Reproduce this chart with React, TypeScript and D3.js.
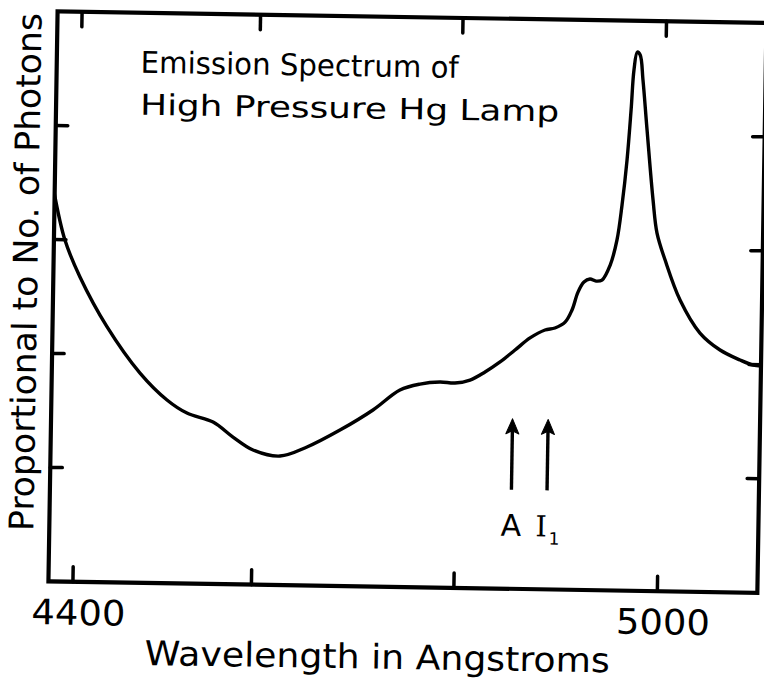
import React from "react";
import * as d3 from "d3";

// Spectrum trace: wavelength (Å) and relative photon count
const wavelengths = [
  4371.8, 4384.9, 4402.4, 4433.5, 4471.4, 4502.1, 4524.7, 4554.1, 4576.7, 4599.4,
  4626.2, 4652.7, 4685.0, 4717.3, 4743.6, 4763.3, 4783.0, 4797.8, 4812.6, 4827.2,
  4841.8, 4856.3, 4870.9, 4885.5, 4895.2, 4905.1, 4911.7, 4917.3, 4923.0, 4928.8,
  4934.8, 4940.7, 4948.5, 4954.8, 4959.2, 4963.4, 4966.6, 4968.8, 4971.8, 4974.7,
  4977.8, 4982.6, 4989.6, 4994.0, 5002.4, 5017.7, 5037.8, 5057.8, 5077.6, 5090.4,
  5098.0,
];
const photons = [
  3.417, 2.996, 2.675, 2.243, 1.840, 1.608, 1.496, 1.421, 1.292, 1.181,
  1.132, 1.215, 1.368, 1.549, 1.728, 1.783, 1.804, 1.797, 1.825, 1.898,
  1.988, 2.095, 2.203, 2.275, 2.294, 2.347, 2.454, 2.612, 2.701, 2.728,
  2.711, 2.721, 2.854, 3.075, 3.382, 3.777, 4.217, 4.568, 4.726, 4.700,
  4.482, 4.044, 3.430, 3.141, 2.905, 2.557, 2.270, 2.124, 2.039, 1.996,
  1.99,
];

const xTicks = [4400, 4600, 4800, 5000];
const xTickLabels = ["4400", "", "", "5000"];
const yTicks = [1, 2, 3, 4];

// Marked lines
const markerNames = ["A", "I"];
const markerWavelengths = [4855, 4890];

const W = 764;
const H = 682;
const left = 53;
const right = 762;
const top = 17;
const bottom = 587;
const FONT = "'DejaVu Sans', sans-serif";

export default function App() {
  // hand-drawn axis: the wavelength ticks are not evenly spaced
  const x = d3
    .scaleLinear()
    .domain([4400, 4600, 4800, 5000])
    .range([77.5, 256, 458.5, 662]);
  const y = d3.scaleLinear().domain([0, 5]).range([bottom, top]);

  const pts: [number, number][] = wavelengths.map((w, i) => [w, photons[i]]);
  const line = d3
    .line<[number, number]>()
    .x((d) => x(d[0]))
    .y((d) => y(d[1]))
    .curve(d3.curveCatmullRom.alpha(0.5));

  const arrowTop = 417;
  const arrowBottom = 488;

  return (
    <svg
      width={W}
      height={H}
      style={{ position: "absolute", left: 0, top: 0, background: "#fff" }}
    >
      <rect x={0} y={0} width={W} height={H} fill="#fff" />
      <g transform="rotate(0.92 400 300)">
        <defs>
          <clipPath id="plotClip">
            <rect x={left} y={top} width={right - left} height={bottom - top} />
          </clipPath>
        </defs>
        {/* frame */}
        <rect
          x={left}
          y={top}
          width={right - left}
          height={bottom - top}
          fill="none"
          stroke="#000"
          strokeWidth={4.2}
        />
        {/* wavelength ticks on bottom and top */}
        {xTicks.map((t) => (
          <g key={"xt" + t}>
            <line x1={x(t)} x2={x(t)} y1={bottom} y2={bottom - 15} stroke="#000" strokeWidth={3.5} strokeLinecap="round" />
            <line x1={x(t)} x2={x(t)} y1={top} y2={top + 15} stroke="#000" strokeWidth={3.5} strokeLinecap="round" />
          </g>
        ))}
        {/* intensity ticks on left and right */}
        {yTicks.map((t) => (
          <g key={"yt" + t}>
            <line x1={left} x2={left + 12} y1={y(t)} y2={y(t)} stroke="#000" strokeWidth={3.5} strokeLinecap="round" />
            <line x1={right} x2={right - 12} y1={y(t)} y2={y(t)} stroke="#000" strokeWidth={3.5} strokeLinecap="round" />
          </g>
        ))}
        {/* spectrum */}
        <path
          d={line(pts) || ""}
          fill="none"
          stroke="#000"
          strokeWidth={3.4}
          strokeLinejoin="round"
          clipPath="url(#plotClip)"
        />
        {/* title */}
        <text x={137} y={77} fontFamily={FONT} fontSize={30} fill="#000" textLength={318} lengthAdjust="spacingAndGlyphs">
          Emission Spectrum of
        </text>
        <text x={137} y={119} fontFamily={FONT} fontSize={29} fill="#000" textLength={419} lengthAdjust="spacingAndGlyphs">
          High Pressure Hg Lamp
        </text>
        {/* arrows marking lines */}
        {markerWavelengths.map((w, i) => (
          <g key={"m" + i}>
            <line x1={x(w)} x2={x(w)} y1={arrowTop + 10} y2={arrowBottom} stroke="#000" strokeWidth={3.4} />
            <path
              d={`M${x(w)},${arrowTop} L${x(w) - 6.5},${arrowTop + 15} L${x(w)},${arrowTop + 12} L${x(w) + 6.5},${arrowTop + 15} Z`}
              fill="#000"
              stroke="#000"
              strokeWidth={1}
              strokeLinejoin="round"
            />
          </g>
        ))}
        <text x={x(markerWavelengths[0])} y={534} fontFamily={FONT} fontSize={30} textAnchor="middle" fill="#000">
          {markerNames[0]}
        </text>
        <text x={x(markerWavelengths[1]) + 1} y={534} fontFamily="'DejaVu Serif', serif" fontSize={29} textAnchor="middle" fill="#000">
          {markerNames[1]}
          <tspan fontFamily={FONT} fontSize={17} dx={2} dy={8}>1</tspan>
        </text>
        {/* x tick labels */}
        {xTicks.map((t, i) =>
          xTickLabels[i] ? (
            <text key={"xl" + t} x={x(t) + 6} y={630} fontFamily={FONT} fontSize={35} textAnchor="middle" fill="#000" textLength={94} lengthAdjust="spacingAndGlyphs">
              {xTickLabels[i]}
            </text>
          ) : null
        )}
        {/* axis titles */}
        <text x={383} y={669} fontFamily={FONT} fontSize={34} textAnchor="middle" fill="#000" textLength={465} lengthAdjust="spacingAndGlyphs">
          Wavelength in Angstroms
        </text>
        <text
          transform="translate(37,278) rotate(-90)"
          fontFamily={FONT}
          fontSize={34}
          textAnchor="middle"
          fill="#000"
          textLength={518}
          lengthAdjust="spacingAndGlyphs"
        >
          Proportional to No. of Photons
        </text>
      </g>
    </svg>
  );
}
